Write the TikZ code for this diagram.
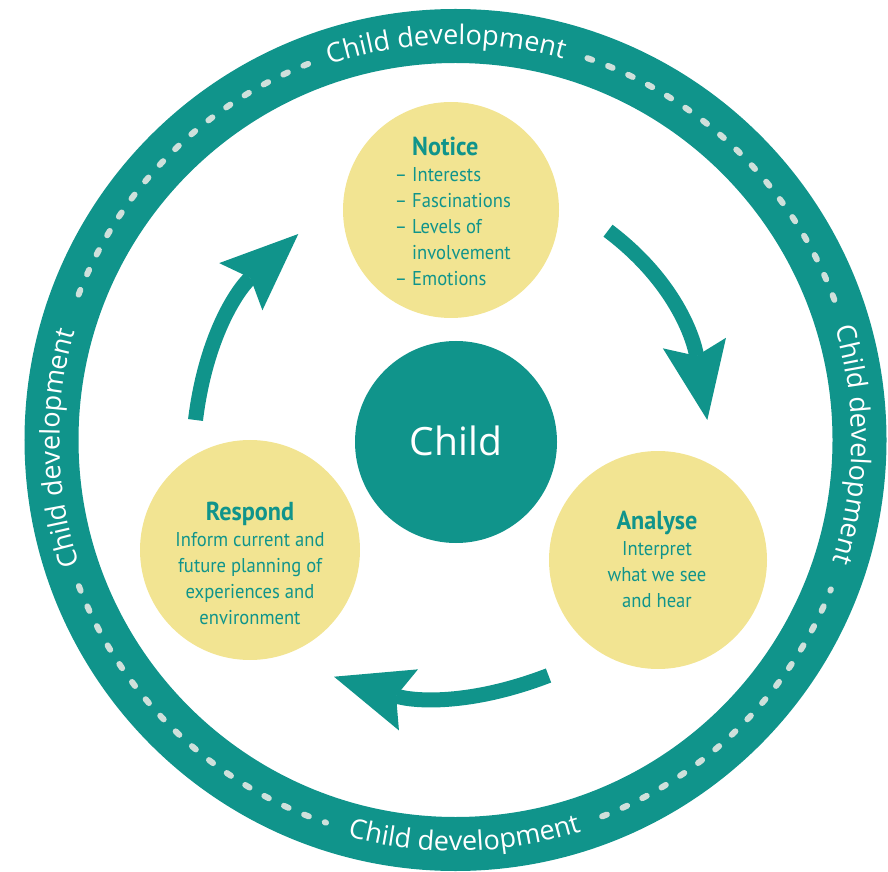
\documentclass[tikz,border=0pt]{standalone}
\usepackage{fontspec}
\setmainfont{PT Sans}
\newfontfamily\ringfont{Open Sans}
\newfontfamily\bodyfont[FakeStretch=0.93]{PT Sans}
\usetikzlibrary{arrows.meta,decorations.text}
\definecolor{teal1}{HTML}{10948B}
\definecolor{sand}{HTML}{F2E492}
\definecolor{dashc}{HTML}{CFE0DB}
\begin{document}
\begin{tikzpicture}[x=1pt,y=1pt,
  bubble/.style={circle, fill=sand, inner sep=0pt, minimum size=#1},
  bodytext/.style={inner sep=0pt, text=teal1, font=\bodyfont\fontsize{20}{26}\selectfont},
  dashring/.style={dashc, line width=6pt, line cap=round, dash pattern=on 5pt off 17pt},
  ringlabel/.style={decorate, decoration={text along path, text align=center, text color=white,
      text={|\ringfont\fontsize{27}{27}\selectfont|Child development}}},
  bigarrow/.style={draw=teal1, line width=15pt,
      -{Stealth[length=78pt, width=64pt, inset=13pt, line width=0pt]}}]
\useasboundingbox (0,0) rectangle (888,871);
\coordinate (O) at (455.5,431);
% outer ring
\draw[teal1, line width=54pt] (O) circle[radius=404];
\foreach \a/\b in {20.3/71.4, 111.4/161.2, 201.2/251.3, 291.3/338.3}
  \draw[dashring] ([shift={(\a:404)}]O) arc[start angle=\a, end angle=\b, radius=404];
% ring labels
\path[ringlabel] ([shift={(131.4:396)}]O) arc[start angle=131.4, end angle=51.4, radius=396];
\path[ringlabel] ([shift={(221.2:396)}]O) arc[start angle=221.2, end angle=141.2, radius=396];
\path[ringlabel] ([shift={(39.3:396)}]O) arc[start angle=39.3, end angle=-40.7, radius=396];
\path[ringlabel] ([shift={(-128.7:411)}]O) arc[start angle=-128.7, end angle=-48.7, radius=411];
% circles
\node[bubble=216pt] (notice) at (451,661) {};
\node[bubble=220pt] (respond) at (250,321) {};
\node[bubble=218pt] (analyse) at (658,311) {};
\node[circle, fill=teal1, minimum size=202pt, inner sep=0pt, text=white,
      font=\ringfont\fontsize{39}{39}\selectfont] (child) at (456,429) {\raisebox{3pt}{Child}};
% texts
\node[bodytext, anchor=north west, align=left] (noticetxt) at (412,734)
  {{\fontsize{26}{27}\selectfont\bfseries Notice}\\
   \llap{–\hspace{5pt}}Interests\\
   \llap{–\hspace{5pt}}Fascinations\\
   \llap{–\hspace{5pt}}Levels of\\
   involvement\\
   \llap{–\hspace{5pt}}Emotions};
\node[bodytext, anchor=north, align=center] (respondtxt) at (250,369.6)
  {{\fontsize{26}{27}\selectfont\bfseries Respond}\\
   Inform current and\\ future planning of\\ experiences and\\ environment};
\node[bodytext, anchor=north, align=center] (analysetxt) at (657,359.6)
  {{\fontsize{26}{27}\selectfont\bfseries Analyse}\\
   Interpret\\ what we see\\ and hear};
% arrows
\coordinate (a1s) at (195.5,451);
\coordinate (a1e) at (298.3,637);
\coordinate (a2s) at (608,640.3);
\coordinate (a2e) at (707.3,451);
\coordinate (a3s) at (548.5,195.5);
\coordinate (a3e) at (334,194.3);
\draw[bigarrow] (a1s) to[out=83, in=222.5] (a1e);
\draw[bigarrow] (a2s) to[out=-37, in=99.5] (a2e);
\draw[bigarrow] (a3s) to[out=201, in=-17.3] (a3e);
\end{tikzpicture}
\end{document}
